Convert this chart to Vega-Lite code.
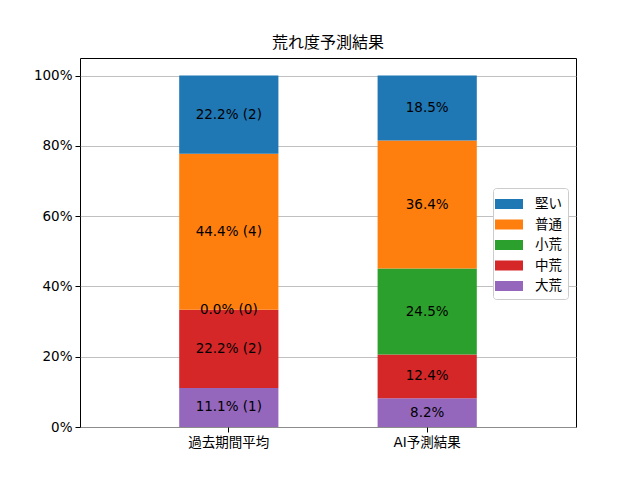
{
  "$schema": "https://vega.github.io/schema/vega-lite/v6.json",
  "width": 496,
  "height": 369,
  "autosize": "none",
  "padding": {"left": 80, "top": 58, "right": 64, "bottom": 53},
  "title": {"text": "荒れ度予測結果", "fontSize": 16, "fontWeight": "normal", "font": "DejaVu Sans, Noto Sans CJK JP", "offset": 7, "color": "black"},
  "data": {
    "values": [
      {"group": "過去期間平均", "cat": "大荒", "value": 11.11, "label": "11.1% (1)"},
      {"group": "過去期間平均", "cat": "中荒", "value": 22.22, "label": "22.2% (2)"},
      {"group": "過去期間平均", "cat": "小荒", "value": 0.0, "label": "0.0% (0)"},
      {"group": "過去期間平均", "cat": "普通", "value": 44.44, "label": "44.4% (4)"},
      {"group": "過去期間平均", "cat": "堅い", "value": 22.22, "label": "22.2% (2)"},
      {"group": "AI予測結果", "cat": "大荒", "value": 8.2, "label": "8.2%"},
      {"group": "AI予測結果", "cat": "中荒", "value": 12.4, "label": "12.4%"},
      {"group": "AI予測結果", "cat": "小荒", "value": 24.5, "label": "24.5%"},
      {"group": "AI予測結果", "cat": "普通", "value": 36.4, "label": "36.4%"},
      {"group": "AI予測結果", "cat": "堅い", "value": 18.5, "label": "18.5%"}
    ]
  },
  "transform": [
    {"calculate": "indexof(['大荒','中荒','小荒','普通','堅い'], datum.cat)", "as": "ord"},
    {"stack": "value", "groupby": ["group"], "sort": [{"field": "ord", "order": "ascending"}], "as": ["y0", "y1"]},
    {"calculate": "(datum.y0 + datum.y1) / 2", "as": "mid"}
  ],
  "encoding": {
    "x": {
      "field": "group", "type": "nominal", "sort": ["過去期間平均", "AI予測結果"], "title": null,
      "scale": {"paddingInner": 0.5, "paddingOuter": 0.5},
      "axis": {"labelAngle": 0, "grid": false}
    }
  },
  "layer": [
    {
      "mark": {"type": "bar", "strokeWidth": 0},
      "encoding": {
        "y": {
          "field": "y0", "type": "quantitative", "title": null,
          "scale": {"domain": [0, 105], "nice": false},
          "axis": {"values": [0, 20, 40, 60, 80, 100], "labelExpr": "datum.value + '%'", "grid": true}
        },
        "y2": {"field": "y1"},
        "color": {
          "field": "cat", "type": "nominal",
          "scale": {"domain": ["堅い", "普通", "小荒", "中荒", "大荒"], "range": ["#1f77b4", "#ff7f0e", "#2ca02c", "#d62728", "#9467bd"]},
          "legend": {
            "title": null, "orient": "none", "legendX": 413, "legendY": 130,
            "symbolType": "M-1.4,-0.5H1.4V0.5H-1.4Z", "symbolSize": 400, "symbolStrokeWidth": 0,
            "symbolOpacity": 1,
            "labelFontSize": 13.5, "labelFont": "DejaVu Sans, Noto Sans CJK JP", "labelColor": "black",
            "labelOffset": 16, "rowPadding": 3.5,
            "strokeColor": "#cccccc", "fillColor": "white", "cornerRadius": 3,
            "padding": 6
          }
        }
      }
    },
    {
      "mark": {"type": "text", "fontSize": 13.5, "font": "DejaVu Sans, Noto Sans CJK JP", "color": "black", "baseline": "middle"},
      "encoding": {
        "y": {"field": "mid", "type": "quantitative"},
        "text": {"field": "label"}
      }
    }
  ],
  "config": {
    "view": {"stroke": "black", "strokeWidth": 1},
    "axis": {
      "labelFont": "DejaVu Sans, Noto Sans CJK JP", "labelFontSize": 13.5, "labelColor": "black",
      "domain": false, "tickColor": "black", "tickSize": 5, "labelPadding": 3,
      "gridColor": "#b0b0b0", "gridWidth": 0.8
    }
  }
}
